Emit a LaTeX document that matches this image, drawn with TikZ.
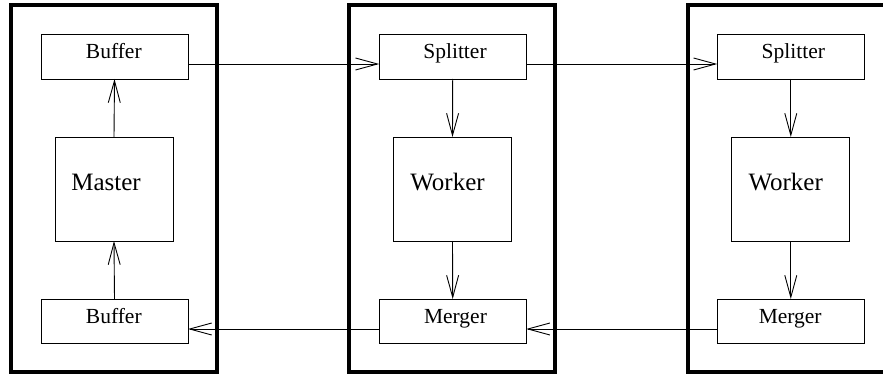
\documentclass[tikz,border=0pt]{standalone}
\usepackage{fontspec}
\setmainfont{Liberation Serif}
\newfontfamily\tms{Liberation Serif}
\usetikzlibrary{arrows.meta}
\begin{document}
\begin{tikzpicture}[x=1pt,y=-1pt,
  frame/.style={draw=black,line width=3.6pt},
  smallbox/.style={draw=black,line width=0.9pt,rectangle,inner sep=0pt,outer sep=0pt,minimum width=147pt,minimum height=45pt},
  bigbox/.style={draw=black,line width=0.9pt,rectangle,inner sep=0pt,outer sep=0pt,minimum width=118pt,minimum height=104pt},
  smalltxt/.style={anchor=base,inner sep=0pt,font=\tms\fontsize{21.5}{24}\selectfont},
  bigtxt/.style={anchor=base,inner sep=0pt,font=\tms\fontsize{25}{28}\selectfont},
  conn/.style={line width=0.9pt,-{Straight Barb[length=22pt,width=12pt,line width=0.9pt]}}
]
\useasboundingbox (0,0) rectangle (883,377);
\clip (0,0) rectangle (883,377);
% frames
\draw[frame] (11,5) rectangle (217,372);
\draw[frame] (349,5) rectangle (555,372);
\draw[frame] (688,5) rectangle (894,372);
% column 1
\node[smallbox] (b1) at (114.5,56.5) {};
\node[bigbox] (m) at (114,189) {};
\node[smallbox,minimum height=44pt] (b2) at (114.5,321) {};
% column 2
\node[smallbox] (s2) at (452.7,56.5) {};
\node[bigbox] (w2) at (452.5,189) {};
\node[smallbox,minimum height=44pt] (g2) at (452.7,321) {};
% column 3
\node[smallbox] (s3) at (790.8,56.5) {};
\node[bigbox] (w3) at (790.8,189) {};
\node[smallbox,minimum height=44pt] (g3) at (790.8,321) {};
% texts
\node[smalltxt] (tb1) at (113.8,58.3) {Buffer};
\node[bigtxt] (tm) at (106,190.7) {Master};
\node[smalltxt] (tb2) at (113.8,323) {Buffer};
\node[smalltxt] (ts2) at (455,58.3) {Splitter};
\node[bigtxt] (tw2) at (447.5,190.7) {Worker};
\node[smalltxt] (tg2) at (455.5,323.3) {Merger};
\node[smalltxt] (ts3) at (793.3,58.3) {Splitter};
\node[bigtxt] (tw3) at (785.7,190.7) {Worker};
\node[smalltxt] (tg3) at (790.2,323.3) {Merger};
% connectors
\draw[conn] (m.north) -- (b1.south);
\draw[conn] (b2.north) -- (m.south);
\draw[conn] (s2.south) -- (w2.north);
\draw[conn] (w2.south) -- (g2.north);
\draw[conn] (s3.south) -- (w3.north);
\draw[conn] (w3.south) -- (g3.north);
\draw[conn] ([yshift=-7.5pt]b1.east) -- ([yshift=-7.5pt]s2.west);
\draw[conn] ([yshift=-7.5pt]s2.east) -- ([yshift=-7.5pt]s3.west);
\draw[conn] ([yshift=-8pt]g3.west) -- ([yshift=-8pt]g2.east);
\draw[conn] ([yshift=-8pt]g2.west) -- ([yshift=-8pt]b2.east);
\end{tikzpicture}
\end{document}
